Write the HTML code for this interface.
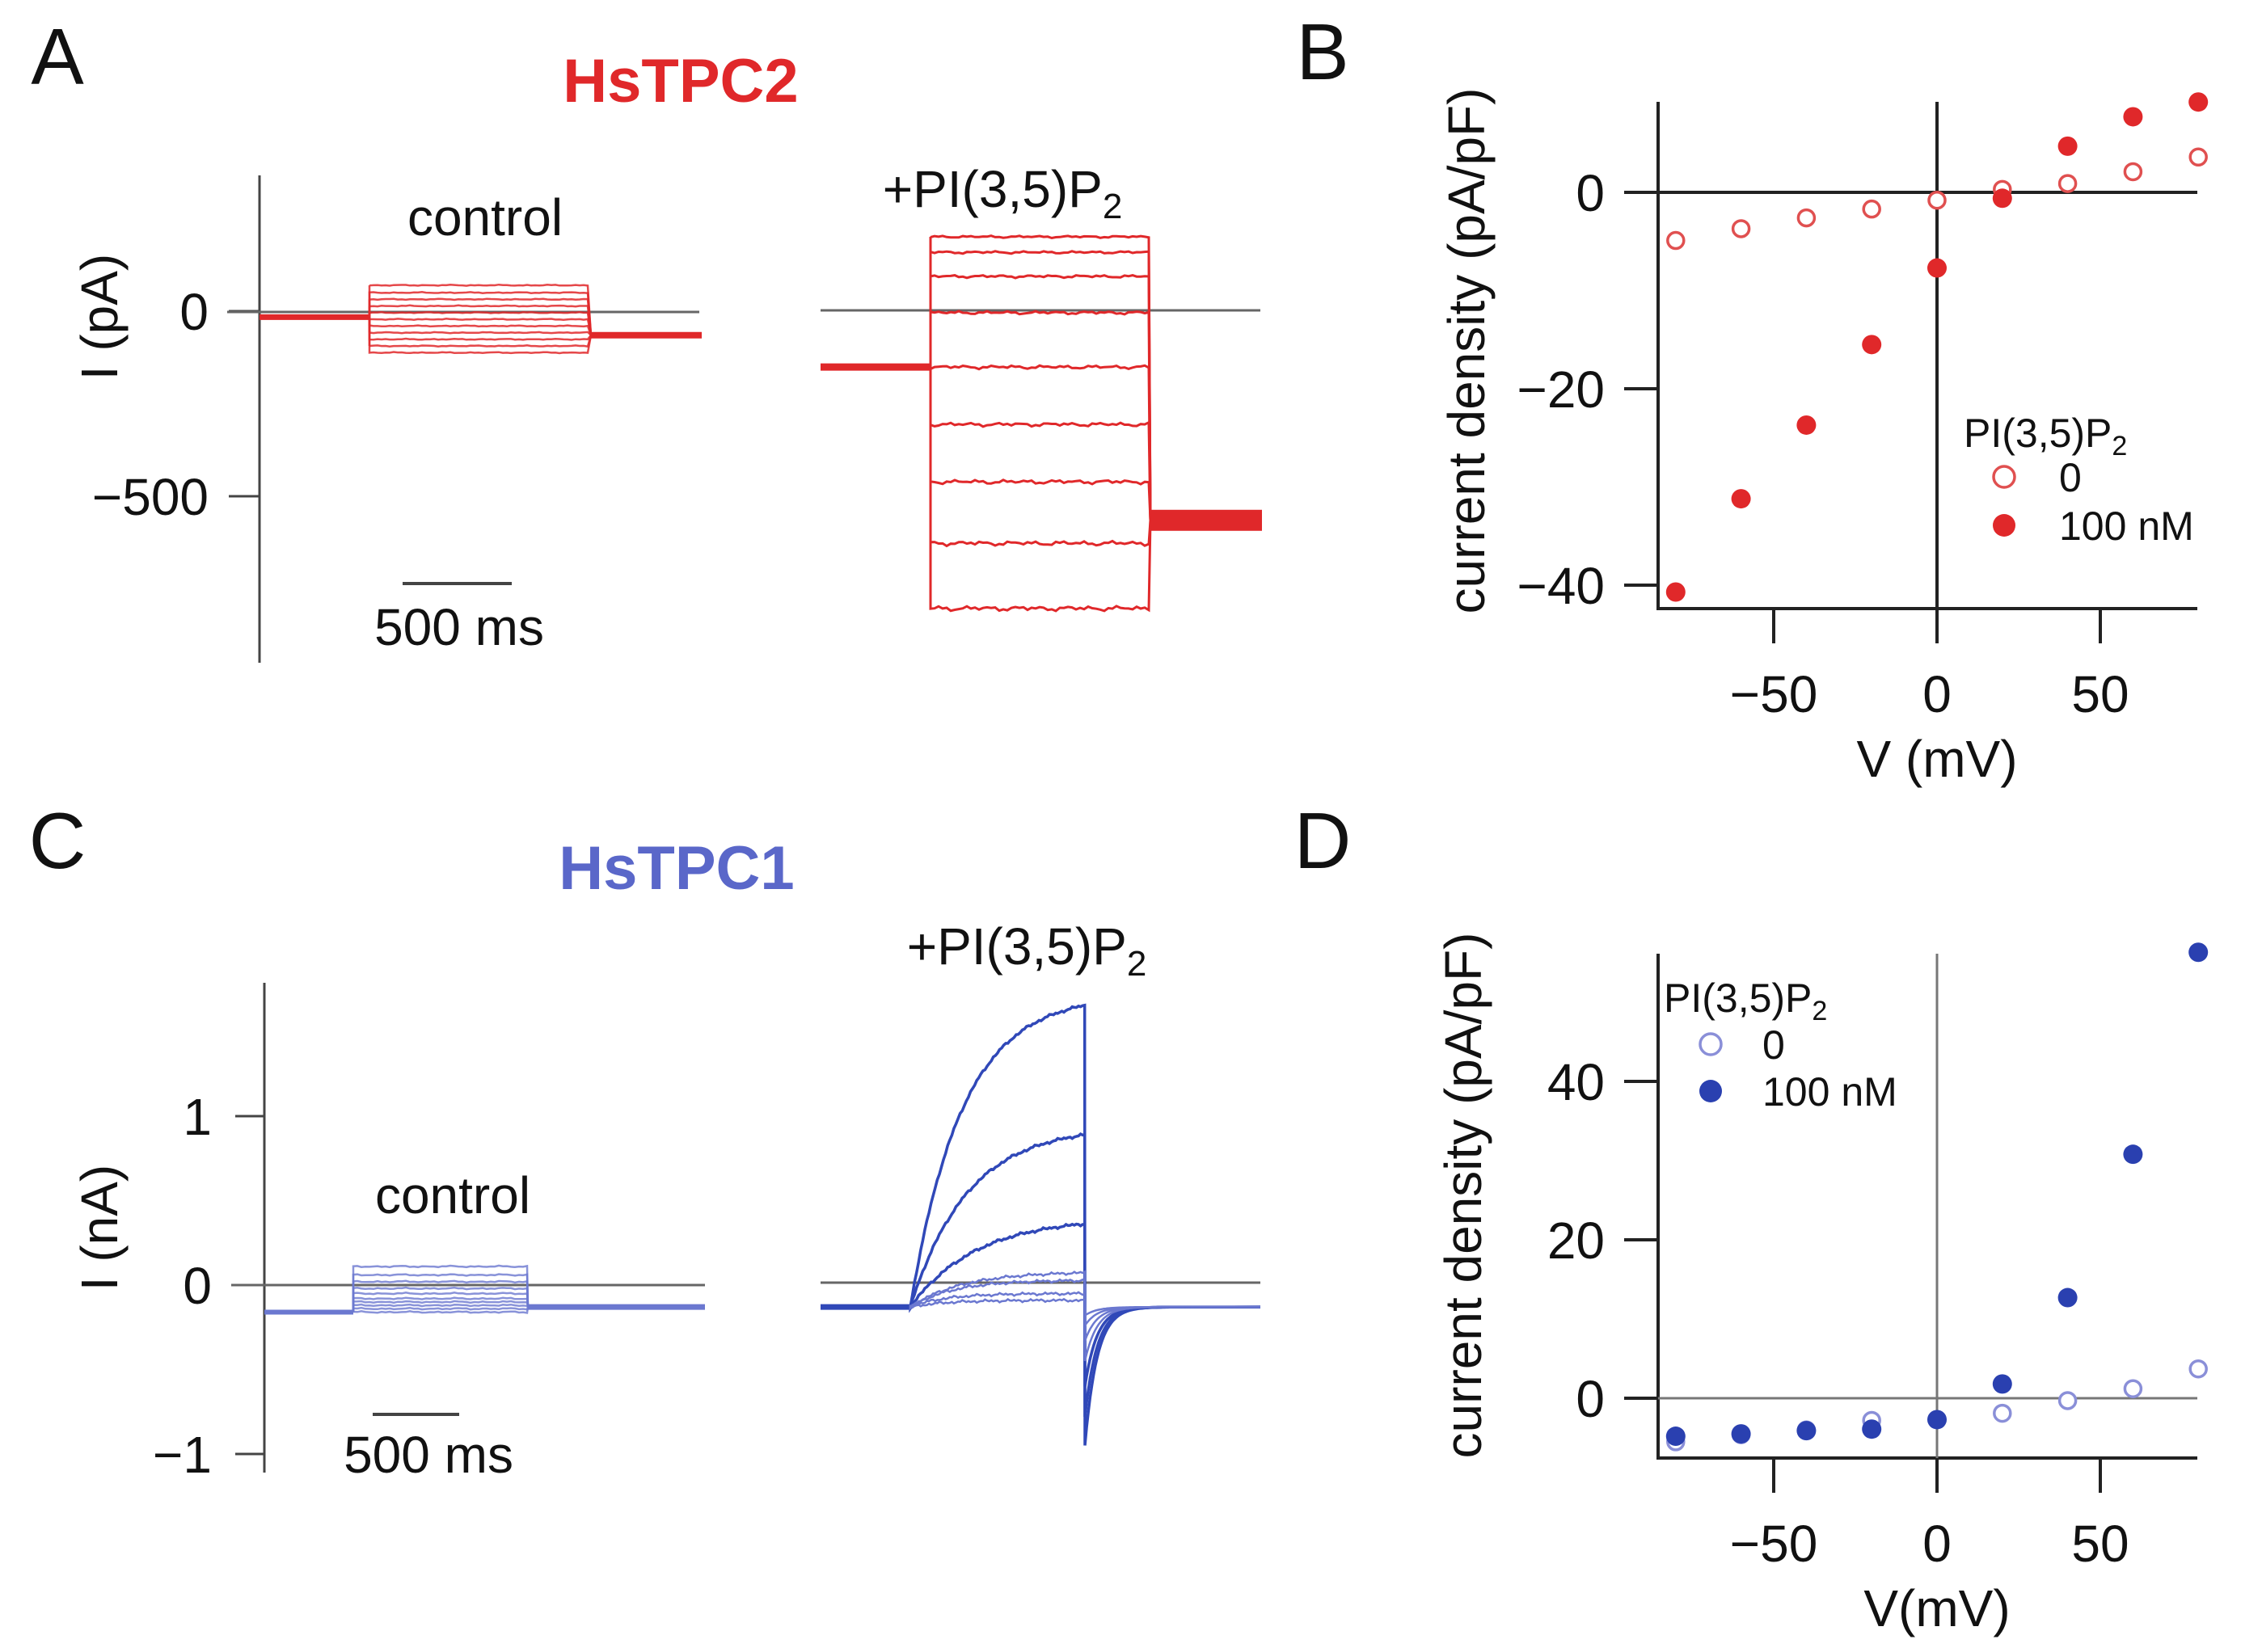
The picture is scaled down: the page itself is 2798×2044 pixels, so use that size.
<!DOCTYPE html>
<html><head><meta charset="utf-8">
<style>
html,body{margin:0;padding:0;background:#fff;}
svg{display:block;font-family:"Liberation Sans",Arial,sans-serif;}
</style></head>
<body>
<svg id="fig" width="2798" height="2044" viewBox="0 0 2798 2044" xmlns="http://www.w3.org/2000/svg">
<rect width="2798" height="2044" fill="#fff"/>
<text x="71" y="104" font-size="98" text-anchor="middle" fill="#111">A</text>
<text x="1636" y="98" font-size="98" text-anchor="middle" fill="#111">B</text>
<text x="71" y="1074" font-size="98" text-anchor="middle" fill="#111">C</text>
<text x="1636" y="1074" font-size="98" text-anchor="middle" fill="#111">D</text>
<text x="842" y="126" font-size="76" font-weight="bold" text-anchor="middle" fill="#e0282a">HsTPC2</text>
<text x="837" y="1100" font-size="76" font-weight="bold" text-anchor="middle" fill="#5a67c9">HsTPC1</text>
<g id="gA"></g>
<g id="gB"></g>
<g id="gC"></g>
<g id="gD"></g>
</svg>
<script>
// ---- data ----
const aControlLevels = [70, 50, 32, 14, -4, -22, -40, -58, -76, -94, -112];
const aControlBaseline = -16;
const aControlTail = -65;
const aPipLevels = [201, 159, 94, -4, -151, -306, -461, -627, -803];
const aPipBaseline = -151;
const aPipTail = -565;
const aTicks = [0, -500];
const aTickLabels = ["0", "\u2212500"];

const cControlLevels = [0.11, 0.06, 0.02, -0.02, -0.05, -0.08, -0.1, -0.12, -0.14, -0.16];
const cControlBaseline = -0.16;
const cControlTail = -0.13;
const cPipSteady = [1.72, 0.94, 0.40, 0.08, 0.03, -0.05, -0.09];
const cPipTau = [300, 330, 380, 300, 250, 200, 200];
const cPipTailPeak = [-0.95, -0.78, -0.6, -0.45, -0.33, -0.24, -0.18];
const cPipBaseline = -0.13;
const cTicks = [1, 0, -1];
const cTickLabels = ["1", "0", "\u22121"];

const ivVoltages = [-80, -60, -40, -20, 0, 20, 40, 60, 80];
const bOpen = [-4.9, -3.7, -2.6, -1.7, -0.8, 0.3, 0.9, 2.1, 3.6];
const bFilled = [-40.7, -31.2, -23.7, -15.5, -7.7, -0.6, 4.7, 7.7, 9.2];
const bYTicks = [0, -20, -40];
const bYTickLabels = ["0", "\u221220", "\u221240"];
const dOpen = [-5.5, -4.6, -4.0, -2.8, -2.7, -1.9, -0.3, 1.2, 3.7];
const dFilled = [-4.8, -4.5, -4.1, -3.9, -2.7, 1.8, 12.7, 30.8, 56.3];
const dYTicks = [0, 20, 40];
const dYTickLabels = ["0", "20", "40"];
const xTicks = [-50, 0, 50];
const xTickLabels = ["\u221250", "0", "50"];

const NS = "http://www.w3.org/2000/svg";
const FS = 64;
function mk(parent, tag, attrs, txt) {
  const e = document.createElementNS(NS, tag);
  for (const k in attrs) e.setAttribute(k, attrs[k]);
  if (txt !== undefined) e.textContent = txt;
  parent.appendChild(e);
  return e;
}
function wob(i, amp) { return amp * (Math.sin(i * 2.31) * 0.4 + Math.sin(i * 0.537) * 0.35 + Math.sin(i * 5.13) * 0.25); }

// ---------- Panel A ----------
(function () {
  const g = document.getElementById("gA");
  const y = v => 385 - v * (229 / 500);
  const red = "#e0282a";
  const ax = mk(g, "line", {x1: 321, y1: 217, x2: 321, y2: 820, stroke: "#444", "stroke-width": 3});
  
  
  aTicks.forEach((t, i) => {
    const tk = mk(g, "line", {x1: 283, y1: y(t), x2: 321, y2: y(t), stroke: "#444", "stroke-width": 3});
    
    
    const tl = mk(g, "text", {x: 258, y: y(t) + 23, "font-size": FS, "text-anchor": "end", fill: "#111"}, aTickLabels[i]);
    
    
  });
  const yt = mk(g, "text", {x: 0, y: 0, "font-size": FS, "text-anchor": "middle", fill: "#111", transform: "translate(145,392) rotate(-90)"}, "I (pA)");
  
  
  const z1 = mk(g, "line", {x1: 281, y1: 386, x2: 865, y2: 386, stroke: "#666", "stroke-width": 3});
  
  
  const z2 = mk(g, "line", {x1: 1015, y1: 384, x2: 1559, y2: 384, stroke: "#666", "stroke-width": 3});
  
  
  const bl = mk(g, "line", {x1: 321, y1: y(aControlBaseline), x2: 457, y2: y(aControlBaseline), stroke: red, "stroke-width": 7});
  
  
  aControlLevels.forEach((v, i) => {
    let d = "M457," + y(aControlBaseline) + " L457," + y(v);
    for (let x = 457; x <= 731; x += 5) d += " L" + x + "," + (y(v) + wob(x + i * 13, 0.8)).toFixed(1);
    d += " L731," + y(aControlTail);
    const p = mk(g, "path", {d: d, fill: "none", stroke: red, "stroke-width": 2.5, opacity: 0.85});
    
    
  });
  const tl = mk(g, "line", {x1: 731, y1: y(aControlTail), x2: 868, y2: y(aControlTail), stroke: red, "stroke-width": 8});
  
  
  const pb = mk(g, "line", {x1: 1015, y1: y(aPipBaseline), x2: 1151, y2: y(aPipBaseline), stroke: red, "stroke-width": 9});
  
  
  aPipLevels.forEach((v, i) => {
    let d = "M1151," + y(aPipBaseline) + " L1151," + y(v);
    for (let x = 1151; x <= 1423; x += 5) d += " L" + x + "," + (y(v) + wob(x + i * 17, 1.6 + i * 0.25)).toFixed(1);
    d += " L1423," + y(aPipTail);
    const p = mk(g, "path", {d: d, fill: "none", stroke: red, "stroke-width": 3});
    
    
  });
  const pt = mk(g, "rect", {x: 1423, y: y(aPipTail) - 13, width: 138, height: 26, fill: red});
  
  
  const c = mk(g, "text", {x: 600, y: 291, "font-size": FS, "text-anchor": "middle", fill: "#111"}, "control");
  
  
  const pl = mk(g, "text", {x: 1240, y: 256, "font-size": FS, "text-anchor": "middle", fill: "#111"});
  
  
  pl.innerHTML = '+PI(3,5)P<tspan font-size="44" dy="14">2</tspan>';
  const sb = mk(g, "line", {x1: 498, y1: 722, x2: 633, y2: 722, stroke: "#444", "stroke-width": 4});
  
  
  const st = mk(g, "text", {x: 568, y: 798, "font-size": FS, "text-anchor": "middle", fill: "#111"}, "500 ms");
  
  
})();

// ---------- Panel C ----------
(function () {
  const g = document.getElementById("gC");
  const y = v => 1590 - v * 209;
  const blue = "#6b78d0", dblue = "#3048b8";
  const ax = mk(g, "line", {x1: 327, y1: 1216, x2: 327, y2: 1822, stroke: "#444", "stroke-width": 3});
  
  
  cTicks.forEach((t, i) => {
    const tk = mk(g, "line", {x1: 291, y1: y(t), x2: 327, y2: y(t), stroke: "#444", "stroke-width": 3});
    
    
    const tl = mk(g, "text", {x: 262, y: y(t) + 23, "font-size": FS, "text-anchor": "end", fill: "#111"}, cTickLabels[i]);
    
    
  });
  const yt = mk(g, "text", {x: 0, y: 0, "font-size": FS, "text-anchor": "middle", fill: "#111", transform: "translate(145,1519) rotate(-90)"}, "I (nA)");
  
  
  const z1 = mk(g, "line", {x1: 286, y1: 1590, x2: 872, y2: 1590, stroke: "#666", "stroke-width": 3});
  
  
  const z2 = mk(g, "line", {x1: 1015, y1: 1587, x2: 1559, y2: 1587, stroke: "#666", "stroke-width": 3});
  
  
  const bl = mk(g, "line", {x1: 327, y1: y(cControlBaseline), x2: 437, y2: y(cControlBaseline), stroke: blue, "stroke-width": 6});
  
  
  cControlLevels.forEach((v, i) => {
    let d = "M437," + y(cControlBaseline) + " L437," + y(v);
    for (let x = 437; x <= 653; x += 5) d += " L" + x + "," + (y(v) + wob(x + i * 11, 1.2)).toFixed(1);
    d += " L653," + y(cControlTail);
    const p = mk(g, "path", {d: d, fill: "none", stroke: blue, "stroke-width": 2.5, opacity: 0.8});
    
    
  });
  const tl = mk(g, "line", {x1: 653, y1: y(cControlTail), x2: 872, y2: y(cControlTail), stroke: blue, "stroke-width": 7});
  
  
  const xs = ms => 1126 + ms * (107 / 500);
  const pb = mk(g, "line", {x1: 1015, y1: y(cPipBaseline), x2: 1126, y2: y(cPipBaseline), stroke: dblue, "stroke-width": 7});
  
  
  cPipSteady.forEach((v, i) => {
    let d = "M1126," + y(cPipBaseline);
    for (let t = 0; t <= 1010; t += 12) {
      const val = cPipBaseline + (v - cPipBaseline) * (1 - Math.exp(-t / cPipTau[i]));
      d += " L" + xs(t).toFixed(1) + "," + (y(val) + wob(t / 12 + i * 7, 2.2)).toFixed(1);
    }
    d += " L1342," + y(cPipTailPeak[i]);
    for (let t = 0; t <= 500; t += 10) {
      const val = cPipBaseline + (cPipTailPeak[i] - cPipBaseline) * Math.exp(-t / 70);
      d += " L" + (1342 + t * (107 / 500)).toFixed(1) + "," + y(val).toFixed(1);
    }
    d += " L1559," + y(cPipBaseline);
    const p = mk(g, "path", {d: d, fill: "none", stroke: i < 3 ? dblue : blue, "stroke-width": i < 3 ? 3.5 : 2.5});
    
    
  });
  const c = mk(g, "text", {x: 560, y: 1501, "font-size": FS, "text-anchor": "middle", fill: "#111"}, "control");
  
  
  const pl = mk(g, "text", {x: 1270, y: 1193, "font-size": FS, "text-anchor": "middle", fill: "#111"});
  
  
  pl.innerHTML = '+PI(3,5)P<tspan font-size="44" dy="14">2</tspan>';
  const sb = mk(g, "line", {x1: 461, y1: 1750, x2: 568, y2: 1750, stroke: "#444", "stroke-width": 4});
  
  
  const st = mk(g, "text", {x: 530, y: 1822, "font-size": FS, "text-anchor": "middle", fill: "#111"}, "500 ms");
  
  
})();

// ---------- IV panels ----------
function ivPanel(id, pre, cfg) {
  const g = document.getElementById(id);
  const x = v => 2396 + v * (202 / 50);
  const y = v => cfg.y0 - v * cfg.k;
  const axc = "#222";
  const ya = mk(g, "line", {x1: 2051, y1: cfg.top, x2: 2051, y2: cfg.bottom + 2, stroke: axc, "stroke-width": 4});
  
  
  const xa = mk(g, "line", {x1: 2049, y1: cfg.bottom, x2: 2718, y2: cfg.bottom, stroke: axc, "stroke-width": 4});
  
  
  const zh = mk(g, "line", {x1: 2009, y1: y(0), x2: 2718, y2: y(0), stroke: cfg.zc, "stroke-width": cfg.zw});
  
  
  const zv = mk(g, "line", {x1: x(0), y1: cfg.top, x2: x(0), y2: cfg.bottom, stroke: cfg.zc, "stroke-width": cfg.zw});
  
  
  cfg.yticks.forEach((t, i) => {
    const tk = mk(g, "line", {x1: 2009, y1: y(t), x2: 2051, y2: y(t), stroke: axc, "stroke-width": 4});
    
    
    const tl = mk(g, "text", {x: 1985, y: y(t) + 23, "font-size": FS, "text-anchor": "end", fill: "#111"}, cfg.ylabels[i]);
    
    
  });
  xTicks.forEach((t, i) => {
    const tk = mk(g, "line", {x1: x(t), y1: cfg.bottom, x2: x(t), y2: cfg.bottom + 43, stroke: axc, "stroke-width": 4});
    
    
    const tl = mk(g, "text", {x: x(t), y: cfg.bottom + 128, "font-size": FS, "text-anchor": "middle", fill: "#111"}, xTickLabels[i]);
    
    
  });
  const xt = mk(g, "text", {x: 2396, y: cfg.bottom + 208, "font-size": FS, "text-anchor": "middle", fill: "#111"}, cfg.xtitle);
  
  
  const yt = mk(g, "text", {x: 0, y: 0, "font-size": FS, "text-anchor": "middle", fill: "#111", transform: "translate(" + (cfg.ytx + 22) + "," + cfg.yty + ") rotate(-90)"}, "current density (pA/pF)");
  
  
  ivVoltages.forEach((v, i) => {
    const o = mk(g, "circle", {cx: x(v), cy: y(cfg.open[i]), r: 10, fill: "#fff", stroke: cfg.oc, "stroke-width": 3.5});
    
    
  });
  ivVoltages.forEach((v, i) => {
    const f = mk(g, "circle", {cx: x(v), cy: y(cfg.filled[i]), r: 12, fill: cfg.fc});
    
    
  });
  const L = cfg.leg;
  const lt = mk(g, "text", {x: L.x, y: L.y, "font-size": 50, fill: "#111"});
  
  
  lt.innerHTML = 'PI(3,5)P<tspan font-size="34" dy="10">2</tspan>';
  const lo = mk(g, "circle", {cx: L.mx, cy: L.y1, r: 13, fill: "#fff", stroke: cfg.oc, "stroke-width": 3.5});
  
  
  const lot = mk(g, "text", {x: L.tx, y: L.y1 + 18, "font-size": 50, fill: "#111"}, "0");
  
  
  const lf = mk(g, "circle", {cx: L.mx, cy: L.y2, r: 14, fill: cfg.fc});
  
  
  const lft = mk(g, "text", {x: L.tx, y: L.y2 + 18, "font-size": 50, fill: "#111"}, "100 nM");
  
  
}
ivPanel("gB", "b", {y0: 238, k: 243 / 20, top: 126, bottom: 753, zc: "#222", zw: 4,
  yticks: bYTicks, ylabels: bYTickLabels, xtitle: "V (mV)", ytx: 1814, yty: 434,
  open: bOpen, filled: bFilled, oc: "#e05050", fc: "#e0282a",
  leg: {x: 2429, y: 553, mx: 2479, y1: 590, y2: 650, tx: 2547}});
ivPanel("gD", "d", {y0: 1730, k: 196 / 20, top: 1180, bottom: 1804, zc: "#777", zw: 3,
  yticks: dYTicks, ylabels: dYTickLabels, xtitle: "V(mV)", ytx: 1810, yty: 1479,
  open: dOpen, filled: dFilled, oc: "#8a8fd8", fc: "#2a40b0",
  leg: {x: 2058, y: 1252, mx: 2116, y1: 1292, y2: 1350, tx: 2180}});
</script>
</body></html>
